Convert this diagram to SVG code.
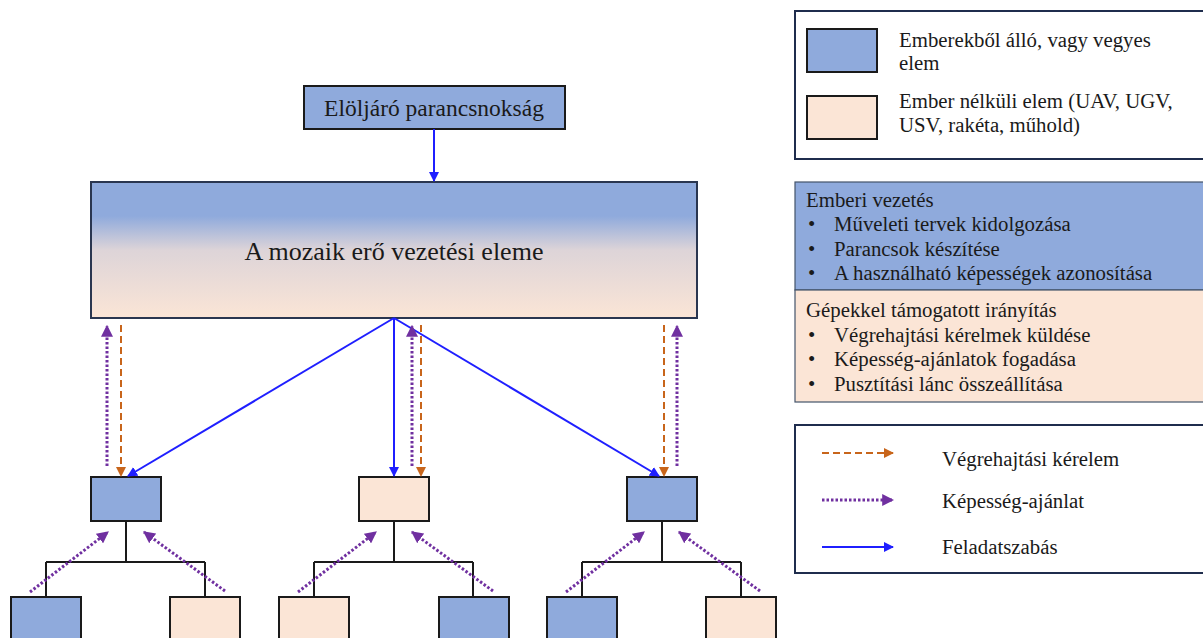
<svg xmlns="http://www.w3.org/2000/svg" width="1203" height="638" viewBox="0 0 1203 638" font-family="'Liberation Serif', 'DejaVu Serif', serif">
  <style>
    text { font-family: "Liberation Serif", "DejaVu Serif", serif; fill: #1a1a1a; }
    .human { fill: #8faadc; stroke: #1a1a1a; stroke-width: 2; }
    .unmanned { fill: #fbe5d6; stroke: #1a1a1a; stroke-width: 2; }
    .tree { fill: none; stroke: #1a1a1a; stroke-width: 2; }
    .task { fill: none; stroke: #1f1fff; stroke-width: 2; marker-end: url(#ahBlue); }
    .request { fill: none; stroke: #c8651b; stroke-width: 2; stroke-dasharray: 7 4; marker-end: url(#ahOrange); }
    .offer { fill: none; stroke: #7030a0; stroke-width: 3; stroke-dasharray: 2.5 2; marker-end: url(#ahPurple); }
    .panel { fill: #ffffff; stroke: #1f2d4d; stroke-width: 2; }
    .lg { font-size: 20.8px; }
  </style>
  <defs>
    <linearGradient id="mixGrad" x1="0" y1="0" x2="0" y2="1">
      <stop offset="0" stop-color="#8faadc"/>
      <stop offset="0.25" stop-color="#8faadc"/>
      <stop offset="0.5" stop-color="#ddd4d8"/>
      <stop offset="1" stop-color="#fbe5d6"/>
    </linearGradient>
    <marker id="ahBlue" viewBox="0 0 10 10" refX="9" refY="5" markerWidth="5" markerHeight="5" orient="auto" markerUnits="strokeWidth">
      <path d="M0,0 L10,5 L0,10 z" fill="#1f1fff"/>
    </marker>
    <marker id="ahOrange" viewBox="0 0 10 10" refX="9" refY="5" markerWidth="5" markerHeight="5" orient="auto" markerUnits="strokeWidth">
      <path d="M0,0 L10,5 L0,10 z" fill="#c8651b"/>
    </marker>
    <marker id="ahPurple" viewBox="0 0 10 10" refX="9" refY="5" markerWidth="4" markerHeight="4" orient="auto" markerUnits="strokeWidth">
      <path d="M0,0 L10,5 L0,10 z" fill="#7030a0"/>
    </marker>
  </defs>

  <!-- tree links between level-2 elements and their subordinates -->
  <g id="tree-links">
    <path class="tree" d="M126,521 V562 M46,562 H205 M46,562 V597 M205,562 V597"/>
    <path class="tree" d="M394,521 V562 M314,562 H473 M314,562 V597 M473,562 V597"/>
    <path class="tree" d="M662,521 V562 M582,562 H741 M582,562 V597 M741,562 V597"/>
  </g>

  <!-- nodes -->
  <g id="node-command">
    <rect class="human" x="304" y="86" width="261" height="43"/>
    <text x="434" y="116" font-size="23.5" text-anchor="middle">Elöljáró parancsnokság</text>
  </g>
  <g id="node-mosaic-c2">
    <rect x="91" y="182" width="606" height="136" fill="url(#mixGrad)" stroke="#2a3650" stroke-width="2"/>
    <text x="394" y="260" font-size="26" text-anchor="middle">A mozaik erő vezetési eleme</text>
  </g>
  <g id="node-l2-left"><rect class="human" x="91" y="477" width="70" height="44"/></g>
  <g id="node-l2-mid"><rect class="unmanned" x="359" y="477" width="70" height="44"/></g>
  <g id="node-l2-right"><rect class="human" x="627" y="477" width="70" height="44"/></g>

  <g id="node-l3-1"><rect class="human" x="11" y="597" width="70" height="50"/></g>
  <g id="node-l3-2"><rect class="unmanned" x="170" y="597" width="70" height="50"/></g>
  <g id="node-l3-3"><rect class="unmanned" x="279" y="597" width="70" height="50"/></g>
  <g id="node-l3-4"><rect class="human" x="439" y="597" width="70" height="50"/></g>
  <g id="node-l3-5"><rect class="human" x="547" y="597" width="70" height="50"/></g>
  <g id="node-l3-6"><rect class="unmanned" x="706" y="597" width="70" height="50"/></g>

  <!-- connectors -->
  <g id="connectors">
    <!-- tasking -->
    <line class="task" x1="434" y1="129" x2="434" y2="181"/>
    <line class="task" x1="394" y1="318" x2="128" y2="476"/>
    <line class="task" x1="394" y1="318" x2="394" y2="476"/>
    <line class="task" x1="394" y1="318" x2="659" y2="476"/>
    <!-- execution requests -->
    <line class="request" x1="121" y1="325" x2="121" y2="476"/>
    <line class="request" x1="421" y1="325" x2="421" y2="476"/>
    <line class="request" x1="664" y1="325" x2="664" y2="476"/>
    <!-- capability offers upward -->
    <line class="offer" x1="107" y1="466" x2="107" y2="326"/>
    <line class="offer" x1="412" y1="466" x2="412" y2="326"/>
    <line class="offer" x1="677" y1="466" x2="677" y2="326"/>
    <line class="offer" x1="30" y1="592" x2="108" y2="532"/>
    <line class="offer" x1="225" y1="591" x2="144" y2="532"/>
    <line class="offer" x1="298" y1="592" x2="376" y2="532"/>
    <line class="offer" x1="493" y1="591" x2="412" y2="532"/>
    <line class="offer" x1="566" y1="592" x2="644" y2="532"/>
    <line class="offer" x1="760" y1="591" x2="679" y2="532"/>
  </g>

  <!-- element type key -->
  <g id="key-elements">
    <rect class="panel" x="795" y="11" width="410" height="148"/>
    <rect class="human" x="807" y="29" width="70" height="43"/>
    <rect class="unmanned" x="807" y="96" width="70" height="43"/>
    <text class="lg" x="899" y="47">Emberekből álló, vagy vegyes</text>
    <text class="lg" x="899" y="70">elem</text>
    <text class="lg" x="899" y="108">Ember nélküli elem (UAV, UGV,</text>
    <text class="lg" x="899" y="132">USV, rakéta, műhold)</text>
  </g>

  <!-- command functions -->
  <g id="key-functions">
    <rect x="795" y="182" width="410" height="108" fill="#8faadc" stroke="#44546a" stroke-width="1.2"/>
    <rect x="795" y="290" width="410" height="112" fill="#fbe5d6" stroke="#44546a" stroke-width="1.2"/>
    <text class="lg" x="806" y="207">Emberi vezetés</text>
    <text class="lg" x="808" y="231">•</text>
    <text class="lg" x="834" y="231">Műveleti tervek kidolgozása</text>
    <text class="lg" x="808" y="256">•</text>
    <text class="lg" x="834" y="256">Parancsok készítése</text>
    <text class="lg" x="808" y="280">•</text>
    <text class="lg" x="834" y="280">A használható képességek azonosítása</text>
    <text class="lg" x="806" y="317">Gépekkel támogatott irányítás</text>
    <text class="lg" x="808" y="342">•</text>
    <text class="lg" x="834" y="342">Végrehajtási kérelmek küldése</text>
    <text class="lg" x="808" y="366">•</text>
    <text class="lg" x="834" y="366">Képesség-ajánlatok fogadása</text>
    <text class="lg" x="808" y="391">•</text>
    <text class="lg" x="834" y="391">Pusztítási lánc összeállítása</text>
  </g>

  <!-- connector key -->
  <g id="key-connectors">
    <rect class="panel" x="795" y="425" width="410" height="148"/>
    <line class="request" x1="822" y1="453" x2="893" y2="453"/>
    <line class="offer" x1="822" y1="500" x2="893" y2="500"/>
    <line class="task" x1="822" y1="547" x2="893" y2="547"/>
    <text class="lg" x="942" y="466">Végrehajtási kérelem</text>
    <text class="lg" x="942" y="508">Képesség-ajánlat</text>
    <text class="lg" x="942" y="554">Feladatszabás</text>
  </g>
</svg>
